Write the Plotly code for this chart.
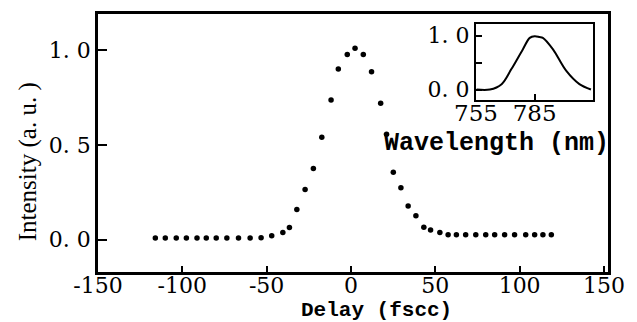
import plotly.graph_objects as go

# Main autocorrelation trace
delay = [-116, -110.1, -103.6, -97.6, -91.3, -85.8, -79.9, -73.6, -66.7, -59.8, -53.3, -47.0,
         -40.4, -36.5, -32.1, -27.2, -22.3, -17.3, -11.8, -7.5, -2.2, 2.4, 7.3, 12.2, 17.6,
         21.1, 25.1, 29.6, 33.9, 38.5, 43.2, 47.2, 52.7, 57.6, 62.5, 68, 74, 79.9, 85.2,
         91.1, 97, 103.6, 108.9, 113.8, 118.8]
intensity = [0.009, 0.009, 0.009, 0.009, 0.009, 0.009, 0.009, 0.009, 0.009, 0.009, 0.010, 0.021,
             0.038, 0.064, 0.16, 0.265, 0.375, 0.54, 0.737, 0.90, 0.977, 1.01, 0.977, 0.885, 0.72,
             0.556, 0.356, 0.274, 0.178, 0.126, 0.066, 0.051, 0.038, 0.026, 0.026, 0.026, 0.026,
             0.026, 0.026, 0.026, 0.026, 0.026, 0.026, 0.026, 0.026]

# Inset spectrum
wavelength = [755.3, 762.1, 768.1, 773.1, 779, 782.5, 785, 787.5, 789.2, 794.3, 801.1, 807.9, 813.8]
spectrum = [0.0, 0.0, 0.10, 0.38, 0.75, 0.96, 0.99, 0.975, 0.96, 0.75, 0.35, 0.10, 0.0]

x_ticks = [-150, -100, -50, 0, 50, 100, 150]
x_ticklabels = ["-150", "-100", "-50", "0", "50", "100", "150"]
y_ticks = [0.0, 0.5, 1.0]
y_ticklabels = ["0. 0", "0. 5", "1. 0"]
inset_x_ticks = [755, 785]
inset_x_ticklabels = ["755", "785"]
inset_y_ticks = [0.0, 0.5, 1.0]
inset_y_ticklabels = ["0. 0", "", "1. 0"]

SERIF = "DejaVu Serif"
MONO = "Liberation Mono"

# The page body adds an 8px offset; the figure is sized to fill the rest of the window.
W, H = 629, 314
L, R, T, B = 90, 29, 3, 50
PW, PH = W - L - R, H - T - B


def px(xp):
    return (xp - 8 - L) / PW


def py(yp):
    return (H - B - (yp - 8)) / PH


fig = go.Figure()
fig.add_trace(go.Scatter(x=delay, y=intensity, mode="markers",
                         marker=dict(color="black", size=5.5), showlegend=False))
fig.add_trace(go.Scatter(x=wavelength, y=spectrum, mode="lines", xaxis="x2", yaxis="y2",
                         line=dict(color="black", width=2, shape="spline"), showlegend=False))

axis_common = dict(showline=True, linecolor="black", mirror=True,
                   ticks="inside", tickcolor="black", tickwidth=2, showgrid=False,
                   zeroline=False)

fig.update_layout(
    width=W, height=H,
    margin=dict(l=L, r=R, t=T, b=B),
    paper_bgcolor="white", plot_bgcolor="white",
    font=dict(family=SERIF, color="black"),
    xaxis=dict(range=[-150, 152.4], tickvals=x_ticks, ticktext=x_ticklabels, ticklen=6,
               ticklabelstandoff=-8,
               linewidth=2.5, tickfont=dict(size=22, family=SERIF), **axis_common),
    yaxis=dict(range=[-0.17, 1.19], tickvals=y_ticks, ticktext=y_ticklabels, ticklen=9,
               linewidth=2.5, tickfont=dict(size=22, family=SERIF), **axis_common),
    xaxis2=dict(domain=[px(476), px(593.3)], anchor="y2", range=[755, 815],
                tickvals=inset_x_ticks, ticktext=inset_x_ticklabels, ticklen=6,
                ticklabelstandoff=-9,
                linewidth=2, tickfont=dict(size=23, family=SERIF), **axis_common),
    yaxis2=dict(domain=[py(98.3), py(21)], anchor="x2", range=[-0.2, 1.22],
                tickvals=inset_y_ticks, ticktext=inset_y_ticklabels, ticklen=6,
                linewidth=2, tickfont=dict(size=22, family=SERIF), **axis_common),
)

fig.add_annotation(text="<b>Delay (fscc)</b>", xref="paper", yref="paper",
                   x=px(376), y=py(311), showarrow=False, borderpad=0,
                   font=dict(size=21, family=MONO), xanchor="center", yanchor="middle")
fig.add_annotation(text="Intensity (a. u. )", xref="paper", yref="paper",
                   x=px(28), y=py(161), showarrow=False, textangle=-90,
                   font=dict(size=25, family="Liberation Serif"), xanchor="center", yanchor="middle")
fig.add_annotation(text="<b>Wavelength (nm)</b>", xref="paper", yref="paper",
                   x=px(496), y=py(142), showarrow=False,
                   font=dict(size=25, family=MONO), xanchor="center", yanchor="middle")

fig.write_html("out.html")
